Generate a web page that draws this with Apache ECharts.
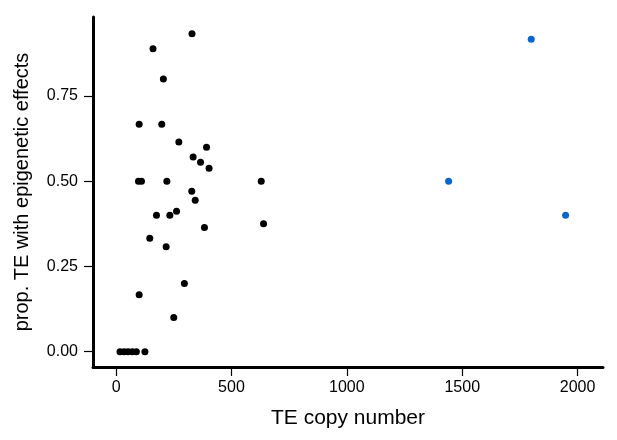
<!DOCTYPE html>
<html>
<head>
<meta charset="utf-8">
<script src="https://cdn.jsdelivr.net/npm/echarts@6/dist/echarts.min.js"></script>
<style>html,body{margin:0;padding:0;background:#fff}#c{width:617px;height:440px}</style>
</head>
<body>
<div id="c"></div>
<script>
// TE copy number (x) and proportion with epigenetic effects (y)
const blackX = [329, 160, 205, 100, 198, 272, 392, 334, 366, 403, 97, 110, 220, 629, 328, 343, 175, 233, 262, 383, 639, 146, 217, 296, 100, 250, 17, 35, 52, 70, 88, 125];
const blackY = [0.933, 0.889, 0.8, 0.667, 0.667, 0.615, 0.6, 0.571, 0.556, 0.538, 0.5, 0.5, 0.5, 0.5, 0.471, 0.444, 0.4, 0.4, 0.412, 0.364, 0.375, 0.333, 0.308, 0.2, 0.167, 0.1, 0, 0, 0, 0, 0, 0];
const blueX = [1799, 1441, 1948];
const blueY = [0.917, 0.5, 0.4];
const xTicks = [0, 500, 1000, 1500, 2000];
const yTicks = [0, 0.25, 0.5, 0.75];
const xTitle = 'TE copy number';
const yTitle = 'prop. TE with epigenetic effects';

const pair = (xs, ys) => xs.map((v, i) => [v, ys[i]]);
const font = '"Liberation Sans", Arial, Helvetica, sans-serif';

const chart = echarts.init(document.getElementById('c'), null, {renderer: 'canvas'});
chart.setOption({
  animation: false,
  backgroundColor: '#ffffff',
  grid: {left: 93, top: 17, width: 510, height: 350, containLabel: false},
  xAxis: {
    type: 'value', min: -100, max: 2110,
    name: xTitle, nameLocation: 'middle', nameGap: 41,
    nameTextStyle: {fontFamily: font, fontSize: 21, color: '#000'},
    axisLine: {show: true, onZero: false, lineStyle: {color: '#000', width: 3}},
    axisTick: {show: true, customValues: xTicks, length: 9, lineStyle: {color: '#000', width: 1.2}},
    axisLabel: {customValues: xTicks, margin: 13, fontFamily: font, fontSize: 16, color: '#000',
      formatter: v => String(Math.round(v))},
    splitLine: {show: false}
  },
  yAxis: {
    type: 'value', min: -0.045, max: 0.982,
    name: yTitle, nameLocation: 'middle', nameGap: 61, nameRotate: 90,
    nameTextStyle: {fontFamily: font, fontSize: 20, color: '#000'},
    axisLine: {show: true, onZero: false, lineStyle: {color: '#000', width: 3}},
    axisTick: {show: true, customValues: yTicks, length: 9, lineStyle: {color: '#000', width: 1.2}},
    axisLabel: {customValues: yTicks, margin: 15, fontFamily: font, fontSize: 16, color: '#000',
      formatter: v => v.toFixed(2)},
    splitLine: {show: false}
  },
  series: [
    {type: 'scatter', data: pair(blackX, blackY), symbolSize: 7, itemStyle: {color: '#000000', opacity: 1}},
    {type: 'scatter', data: pair(blueX, blueY), symbolSize: 7, itemStyle: {color: '#0A66CC', opacity: 1}}
  ]
});
</script>
</body>
</html>
